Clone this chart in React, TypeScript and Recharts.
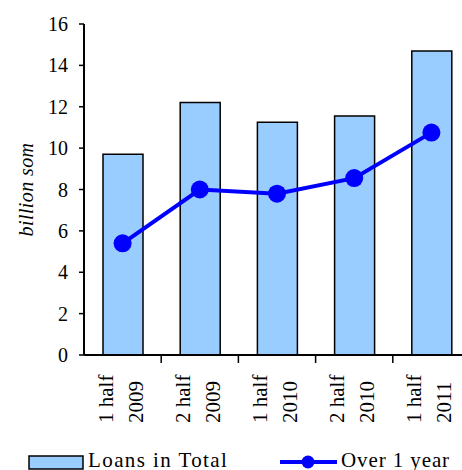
import React from 'react';
import { ComposedChart, Bar, Line, XAxis, YAxis } from 'recharts';

const halves = ['1 half', '2 half', '1 half', '2 half', '1 half'];
const years = ['2009', '2009', '2010', '2010', '2011'];
const loansTotal = [9.7, 12.2, 11.25, 11.55, 14.7];
const over1Year = [5.4, 8.0, 7.8, 8.55, 10.75];
const yTicks = [0, 2, 4, 6, 8, 10, 12, 14, 16];

const data = halves.map((h, i) => ({
  label: `${h} ${years[i]}`,
  half: h,
  year: years[i],
  total: loansTotal[i],
  over: over1Year[i],
}));

const FONT = 'Liberation Serif, Times New Roman, serif';
const CHART_W = 470;
const CHART_H = 470;
const Y_AXIS_W = 84;
const PLOT_W = CHART_W - Y_AXIS_W;
const BAND = PLOT_W / halves.length;

const CatTick = (props: any) => {
  const { x, y, index } = props;
  const d = data[index] || { half: '', year: '' };
  return (
    <g transform={`translate(${x},${y})`}>
      <line x1={BAND / 2} y1={0} x2={BAND / 2} y2={8} stroke="#000" strokeWidth={1.5} />
      <text
        transform="rotate(-90)"
        textAnchor="start"
        fontFamily={FONT}
        fontSize={21}
        fill="#000"
      >
        <tspan x={-68} y={-10}>{d.half}</tspan>
        <tspan x={-68} y={20}>{d.year}</tspan>
      </text>
    </g>
  );
};

const ValTick = (props: any) => {
  const { x, y, payload } = props;
  return (
    <g transform={`translate(${x},${y})`}>
      <text
        x={0}
        y={0}
        dy={7}
        textAnchor="end"
        fontFamily={FONT}
        fontSize={20}
        fill="#000"
      >
        {String(payload.value)}
      </text>
    </g>
  );
};

const YLabel = (props: any) => {
  const vb = props.viewBox || { x: 0, y: 24, width: 84, height: 331 };
  const cx = 33;
  const cy = vb.y + vb.height / 2;
  return (
    <text
      transform={`translate(${cx},${cy}) rotate(-90)`}
      x={0}
      y={0}
      textAnchor="middle"
      fontFamily={FONT}
      fontStyle="italic"
      fontSize={20}
      letterSpacing={0.4}
      fill="#000"
    >
      billion som
    </text>
  );
};

export default function App() {
  return (
    <div
      style={{
        position: 'absolute',
        left: 0,
        top: 0,
        width: 462,
        height: 470,
        overflow: 'hidden',
        background: '#fff',
      }}
    >
      <ComposedChart
        width={CHART_W}
        height={CHART_H}
        data={data}
        margin={{ top: 24, right: 0, left: 0, bottom: 0 }}
        barSize={40}
      >
        <XAxis
          dataKey="label"
          interval={0}
          height={115}
          tickLine={false}
          tickSize={0}
          tickMargin={0}
          axisLine={{ stroke: '#000', strokeWidth: 2 }}
          tick={<CatTick />}
        />
        <YAxis
          width={Y_AXIS_W}
          domain={[0, 16]}
          ticks={yTicks}
          interval={0}
          tickSize={5}
          tickMargin={11}
          axisLine={{ stroke: '#000', strokeWidth: 2 }}
          tickLine={{ stroke: '#000', strokeWidth: 1.5 }}
          tick={<ValTick />}
          label={<YLabel />}
        />
        <Bar
          dataKey="total"
          fill="#99CCFF"
          stroke="#000"
          strokeWidth={1.5}
          isAnimationActive={false}
        />
        <Line
          type="linear"
          dataKey="over"
          stroke="#0000FF"
          strokeWidth={4}
          dot={{ r: 9, fill: '#0000FF', stroke: '#0000FF', strokeWidth: 0 }}
          activeDot={false}
          isAnimationActive={false}
        />
      </ComposedChart>
      <svg
        width={462}
        height={20}
        style={{ position: 'absolute', left: 0, top: 450 }}
      >
        <rect x={29} y={6} width={54} height={13} fill="#99CCFF" stroke="#000" strokeWidth={1.5} />
        <text x={88} y={16.5} fontFamily={FONT} fontSize={21} letterSpacing={1.4} fill="#000">
          Loans in Total
        </text>
        <line x1={280} y1={12} x2={337} y2={12} stroke="#0000FF" strokeWidth={4} />
        <circle cx={308} cy={12} r={6.5} fill="#0000FF" />
        <text x={341} y={16.5} fontFamily={FONT} fontSize={21} letterSpacing={0.9} fill="#000">
          Over 1 year
        </text>
      </svg>
    </div>
  );
}
